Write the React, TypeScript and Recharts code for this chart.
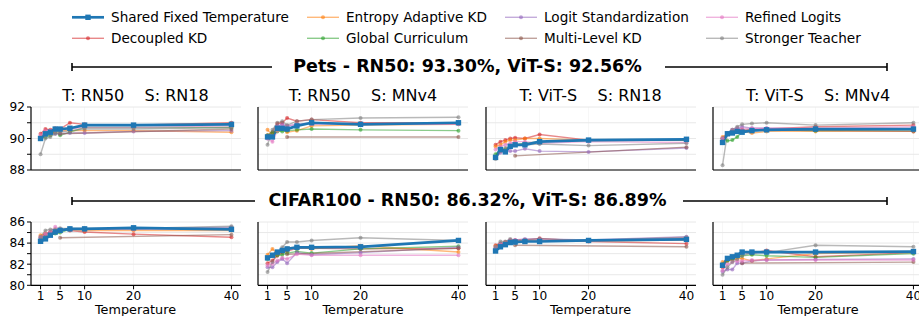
import React from 'react';
import { LineChart, Line, XAxis, YAxis, ReferenceLine } from 'recharts';

const temps = [1, 2, 3, 4, 5, 7, 10, 20, 40];
const xTicks = [1, 5, 10, 20, 40];

const seriesKeys = ['sft', 'dkd', 'eakd', 'gc', 'ls', 'ml', 'rl', 'st'];
const seriesNames = [
  'Shared Fixed Temperature',
  'Decoupled KD',
  'Entropy Adaptive KD',
  'Global Curriculum',
  'Logit Standardization',
  'Multi-Level KD',
  'Refined Logits',
  'Stronger Teacher',
];
const seriesColors = ['#1f77b4', '#d62728', '#ff7f0e', '#2ca02c', '#9467bd', '#8c564b', '#e377c2', '#7f7f7f'];

const petsYTicks = [88, 89, 90, 91, 92];
const cifarYTicks = [80, 81, 82, 83, 84, 85, 86];

const petsRn50Rn18 = {
  sft: [90.0, 90.3, 90.4, 90.6, 90.6, 90.65, 90.85, 90.85, 90.9],
  dkd: [90.3, 90.6, 90.55, 90.65, 90.6, 91.0, 90.9, 90.85, 91.0],
  eakd: [90.1, 90.3, 90.4, 90.4, 90.5, 90.5, 90.5, 90.5, 90.4],
  gc: [90.0, 90.1, 90.2, 90.4, 90.2, 90.4, 90.7, 90.7, 90.7],
  ls: [90.0, 90.2, 90.3, 90.3, 90.3, 90.35, 90.35, 90.45, 90.5],
  ml: [null, null, null, null, 90.3, null, null, null, 90.6],
  rl: [90.2, 90.5, 90.5, 90.5, 90.55, 90.6, 90.7, 90.7, 90.8],
  st: [89.0, 90.0, 90.1, 90.3, 90.4, 90.5, 90.6, 90.6, 90.7],
};
const petsRn50Mnv4 = {
  sft: [90.1, 90.1, 90.65, 90.65, 90.6, 90.8, 91.0, 90.9, 91.0],
  dkd: [90.2, 90.4, 90.95, 91.0, 91.3, 91.1, 91.2, 91.0, 91.0],
  eakd: [90.55, 90.2, 90.5, 90.6, 90.4, 90.5, 90.8, 90.85, 90.9],
  gc: [90.2, 90.4, 90.45, 90.45, 90.5, 90.55, 90.6, 90.55, 90.5],
  ls: [90.0, 90.1, 90.8, 90.9, 90.8, 90.9, 91.0, 90.9, 90.95],
  ml: [null, null, null, null, 90.1, null, null, null, 90.1],
  rl: [90.0, 89.8, 90.5, 90.8, 90.8, 90.9, 90.9, 90.9, 90.9],
  st: [89.6, 90.55, 91.0, 91.1, 90.85, 91.1, 91.2, 91.3, 91.35],
};
const petsVitsRn18 = {
  sft: [88.8, 89.3, 89.15, 89.5, 89.6, 89.6, 89.8, 89.9, 89.95],
  dkd: [89.6, 89.8, 89.9, 90.0, 90.05, 90.0, 90.25, 89.9, 89.9],
  eakd: [89.5, 89.6, 89.8, 89.9, 89.9, 90.0, 90.0, 89.9, 89.9],
  gc: [89.0, 89.3, 89.3, 89.5, 89.6, 89.7, 89.8, 89.85, 89.9],
  ls: [88.8, 89.1, 89.2, 89.2, 89.2, 89.35, 89.2, 89.15, 89.4],
  ml: [null, null, null, null, 88.9, null, null, null, 89.45],
  rl: [89.3, 89.5, 89.6, 89.7, 89.8, 89.8, 89.7, 89.8, 89.75],
  st: [88.7, 89.2, 89.4, 89.5, 89.6, 89.6, 89.65, 89.55, 89.7],
};
const petsVitsMnv4 = {
  sft: [89.75, 90.3, 90.35, 90.45, 90.4, 90.5, 90.55, 90.6, 90.6],
  dkd: [90.0, 90.3, 90.45, 90.55, 90.5, 90.55, 90.6, 90.75, 90.85],
  eakd: [90.1, 90.3, 90.45, 90.45, 90.45, 90.35, 90.45, 90.45, 90.45],
  gc: [90.0, 89.85, 89.9, 90.1, 90.45, 90.55, 90.55, 90.5, 90.55],
  ls: [90.0, 90.3, 90.55, 90.65, 90.75, 90.65, 90.65, 90.6, 90.6],
  ml: [null, null, null, null, 90.55, null, null, null, 90.45],
  rl: [90.0, 90.3, 90.55, 90.65, 90.6, 90.65, 90.65, 90.65, 90.75],
  st: [88.3, 90.35, 90.55, 90.75, 90.9, 90.95, 91.0, 90.85, 91.0],
};
const cifarRn50Rn18 = {
  sft: [84.17, 84.4, 84.75, 85.05, 85.2, 85.35, 85.35, 85.45, 85.3],
  dkd: [84.55, 84.85, 85.05, 85.2, 85.3, 85.2, 85.05, 84.85, 84.55],
  eakd: [84.75, 84.9, 85.0, 85.2, 85.25, 85.3, 85.2, 85.2, 85.2],
  gc: [84.4, 84.6, 84.8, 84.9, 85.0, 85.3, 85.3, 85.35, 85.4],
  ls: [84.5, 84.8, 85.0, 85.2, 85.3, 85.3, 85.3, 85.4, 85.5],
  ml: [null, null, null, null, 84.5, null, null, null, 84.8],
  rl: [84.6, 84.9, 85.1, 85.55, 85.3, 85.3, 85.3, 85.3, 85.3],
  st: [84.6, 85.2, 85.3, 85.3, 85.4, 85.4, 85.4, 85.4, 85.6],
};
const cifarRn50Mnv4 = {
  sft: [82.6, 82.85, 83.15, 83.3, 83.45, 83.6, 83.6, 83.65, 84.25],
  dkd: [82.1, 82.35, 82.8, 83.1, 83.25, 83.5, 83.5, 83.45, 83.5],
  eakd: [82.9, 83.45, 83.0, 83.25, 83.5, 83.6, 83.45, 83.75, 83.15],
  gc: [82.5, 82.8, 82.85, 82.9, 83.05, 83.2, 83.05, 83.45, 83.7],
  ls: [81.7, 81.7, 82.2, 82.5, 82.1, 83.1, 82.9, 83.1, 83.6],
  ml: [null, null, null, null, 82.95, null, null, null, 83.5],
  rl: [81.9, 82.05, 82.35, 82.6, 82.5, 82.95, 82.85, 82.85, 82.85],
  st: [81.25, 82.2, 83.0, 83.6, 84.1, 84.1, 84.25, 84.5, 84.25],
};
const cifarVitsRn18 = {
  sft: [83.25, 83.65, 83.85, 84.05, 84.1, 84.15, 84.15, 84.25, 84.35],
  dkd: [83.8, 83.95, 84.1, 84.25, 84.25, 84.3, 84.45, 84.15, 83.95],
  eakd: [83.7, 83.8, 84.0, 84.1, 84.1, 84.2, 84.2, 84.2, 84.3],
  gc: [83.5, 83.8, 84.0, 84.1, 84.2, 84.2, 84.2, 84.25, 84.4],
  ls: [83.5, 83.9, 84.0, 84.2, 84.3, 84.4, 84.4, 84.3, 84.6],
  ml: [null, null, null, null, 83.8, null, null, null, 83.65],
  rl: [83.6, 83.9, 84.0, 84.3, 84.3, 84.3, 84.3, 84.2, 84.5],
  st: [83.65, 84.15, 84.15, 84.4, 84.25, 84.3, 84.4, 84.25, 84.55],
};
const cifarVitsMnv4 = {
  sft: [81.9, 82.55, 82.7, 82.85, 83.15, 83.15, 83.15, 83.15, 83.2],
  dkd: [81.7, 82.35, 82.5, 82.85, 83.15, 83.0, 83.3, 82.7, 83.1],
  eakd: [82.2, 82.35, 82.45, 82.5, 82.55, 82.3, 82.5, 83.0, 83.15],
  gc: [82.0, 82.3, 82.5, 82.7, 82.8, 82.9, 82.8, 82.65, 83.0],
  ls: [81.3, 81.5, 81.5, 82.1, 82.1, 82.3, 82.4, 82.45, 82.5],
  ml: [null, null, null, null, 82.1, null, null, null, 82.2],
  rl: [81.4, 82.0, 82.2, 82.3, 82.3, 82.4, 82.4, 82.4, 82.4],
  st: [81.0, 81.7, 82.2, 82.5, 82.8, 83.1, 83.1, 83.8, 83.65],
};

const panelTitles = ['T: RN50    S: RN18', 'T: RN50    S: MNv4', 'T: ViT-S    S: RN18', 'T: ViT-S    S: MNv4'];
const petsTitle = 'Pets - RN50: 93.30%, ViT-S: 92.56%';
const cifarTitle = 'CIFAR100 - RN50: 86.32%, ViT-S: 86.89%';
const xLabel = 'Temperature';

const FONT = 'DejaVu Sans, Verdana, sans-serif';
const PLOT_W = 210;
const YAXIS_W = 40;
const panelLefts = [30.5, 258, 485.5, 713];
const TOP_PLOT_Y = 107;
const TOP_PLOT_H = 63;
const BOT_PLOT_Y = 221.7;
const BOT_PLOT_H = 63.3;
const TICK_FS = 12.2;

const squareDot = (props: any) => {
  const { cx, cy, index } = props;
  if (cx == null || cy == null) return <g key={`sq-${index}`} />;
  return <rect key={`sq-${index}`} x={cx - 2.7} y={cy - 2.7} width={5.4} height={5.4} fill="#1f77b4" />;
};

type PanelData = { [k: string]: (number | null)[] };

function Panel({ left, data, bottom, showY }: { left: number; data: PanelData; bottom: boolean; showY: boolean }) {
  const rows = temps.map((t, i) => {
    const r: any = { t };
    seriesKeys.forEach((k) => {
      r[k] = data[k][i];
    });
    return r;
  });
  const plotY = bottom ? BOT_PLOT_Y : TOP_PLOT_Y;
  const plotH = bottom ? BOT_PLOT_H : TOP_PLOT_H;
  const xH = bottom ? 22 : 6;
  const topM = 10;
  const yDomain = bottom ? [80, 86] : [88, 92];
  const yTicks = bottom ? cifarYTicks : petsYTicks;
  const order = [1, 2, 3, 4, 5, 6, 7, 0];
  return (
    <div style={{ position: 'absolute', left: left - YAXIS_W, top: plotY - topM }}>
      <LineChart
        width={YAXIS_W + PLOT_W + 8}
        height={topM + plotH + xH}
        data={rows}
        margin={{ top: topM, right: 8, left: 0, bottom: 0 }}
        accessibilityLayer={false}
      >
        <XAxis
          type="number"
          dataKey="t"
          domain={[-0.95, 41.95]}
          ticks={xTicks}
          interval={0}
          height={xH}
          tickSize={4}
          tickMargin={2}
          tick={bottom ? { fontSize: TICK_FS, fill: '#000', fontFamily: FONT } : false}
          tickLine={{ stroke: '#000', strokeWidth: 1 }}
          axisLine={{ stroke: '#000', strokeWidth: 1.2 }}
        />
        <YAxis
          type="number"
          domain={yDomain}
          ticks={yTicks}
          interval={0}
          width={YAXIS_W}
          tickSize={4}
          tickMargin={2}
          tickFormatter={(v: number) => (v % 2 === 0 ? String(v) : '')}
          tick={showY ? { fontSize: TICK_FS, fill: '#000', fontFamily: FONT } : false}
          tickLine={{ stroke: '#000', strokeWidth: 1 }}
          axisLine={{ stroke: '#000', strokeWidth: 1.2 }}
        />
        {xTicks.map((x) => (
          <ReferenceLine key={`vx${x}`} x={x} stroke="#f7f7f7" strokeWidth={1} />
        ))}
        {yTicks.map((y) => (
          <ReferenceLine key={`hy${y}`} y={y} stroke="#e8e8e8" strokeWidth={1} />
        ))}
        {order.map((i) => {
          const k = seriesKeys[i];
          const c = seriesColors[i];
          if (i === 0) {
            return (
              <Line
                key={k}
                dataKey={k}
                type="linear"
                stroke={c}
                strokeWidth={2.7}
                dot={squareDot}
                activeDot={false}
                connectNulls
                isAnimationActive={false}
              />
            );
          }
          return (
            <Line
              key={k}
              dataKey={k}
              type="linear"
              stroke={c}
              strokeOpacity={0.55}
              strokeWidth={1.4}
              dot={{ r: 2, fill: c, fillOpacity: 0.6, stroke: 'none' }}
              activeDot={false}
              connectNulls
              isAnimationActive={false}
            />
          );
        })}
      </LineChart>
    </div>
  );
}

const legendCols = [
  { lineX: 72, textX: 111 },
  { lineX: 307, textX: 346 },
  { lineX: 505, textX: 544 },
  { lineX: 706, textX: 745 },
];
const legendRows = [17.3, 38.3];

export default function App() {
  const topData = [petsRn50Rn18, petsRn50Mnv4, petsVitsRn18, petsVitsMnv4];
  const botData = [cifarRn50Rn18, cifarRn50Mnv4, cifarVitsRn18, cifarVitsMnv4];
  return (
    <div
      style={{
        position: 'absolute',
        left: 0,
        top: 0,
        width: 919,
        height: 316,
        overflow: 'hidden',
        background: '#fff',
        fontFamily: FONT,
      }}
    >
      {topData.map((d, i) => (
        <Panel key={`t${i}`} left={panelLefts[i]} data={d} bottom={false} showY={i === 0} />
      ))}
      {botData.map((d, i) => (
        <Panel key={`b${i}`} left={panelLefts[i]} data={d} bottom={true} showY={i === 0} />
      ))}
      <svg
        width={919}
        height={316}
        style={{ position: 'absolute', left: 0, top: 0, pointerEvents: 'none' }}
        fontFamily={FONT}
      >
        {seriesNames.map((name, i) => {
          const col = Math.floor(i / 2);
          const row = i % 2;
          const { lineX, textX } = legendCols[col];
          const y = legendRows[row];
          const c = seriesColors[i];
          const cx = lineX + 16;
          return (
            <g key={name}>
              {i === 0 ? (
                <>
                  <line x1={lineX} x2={lineX + 32} y1={y} y2={y} stroke={c} strokeWidth={2.7} />
                  <rect x={cx - 2.7} y={y - 2.7} width={5.4} height={5.4} fill={c} />
                </>
              ) : (
                <>
                  <line x1={lineX} x2={lineX + 32} y1={y} y2={y} stroke={c} strokeOpacity={0.55} strokeWidth={1.4} />
                  <circle cx={cx} cy={y} r={2} fill={c} fillOpacity={0.6} />
                </>
              )}
              <text x={textX} y={y} dominantBaseline="central" fontSize={13.6} fill="#000">
                {name}
              </text>
            </g>
          );
        })}
        <line x1={72} x2={272} y1={67} y2={67} stroke="#000" strokeWidth={1.6} />
        <line x1={665} x2={887} y1={67} y2={67} stroke="#000" strokeWidth={1.6} />
        <line x1={72} x2={72} y1={63} y2={71} stroke="#000" strokeWidth={1.6} />
        <line x1={887} x2={887} y1={63} y2={71} stroke="#000" strokeWidth={1.6} />
        <text x={467.5} y={66} textAnchor="middle" dominantBaseline="central" fontSize={17.5} fontWeight="bold" fill="#000">
          {petsTitle}
        </text>
        <line x1={72} x2={255} y1={201} y2={201} stroke="#000" strokeWidth={1.6} />
        <line x1={683} x2={887} y1={201} y2={201} stroke="#000" strokeWidth={1.6} />
        <line x1={72} x2={72} y1={197} y2={205} stroke="#000" strokeWidth={1.6} />
        <line x1={887} x2={887} y1={197} y2={205} stroke="#000" strokeWidth={1.6} />
        <text x={467.5} y={200} textAnchor="middle" dominantBaseline="central" fontSize={17.5} fontWeight="bold" fill="#000">
          {cifarTitle}
        </text>
        {panelTitles.map((t, i) => (
          <text
            key={t}
            x={panelLefts[i] + PLOT_W / 2}
            y={95}
            textAnchor="middle"
            dominantBaseline="central"
            fontSize={16}
            fill="#000"
            style={{ whiteSpace: 'pre' }}
          >
            {t}
          </text>
        ))}
        {panelLefts.map((l, i) => (
          <text key={`xl${i}`} x={l + PLOT_W / 2} y={309} textAnchor="middle" dominantBaseline="central" fontSize={12.8} fill="#000">
            {xLabel}
          </text>
        ))}
      </svg>
    </div>
  );
}
